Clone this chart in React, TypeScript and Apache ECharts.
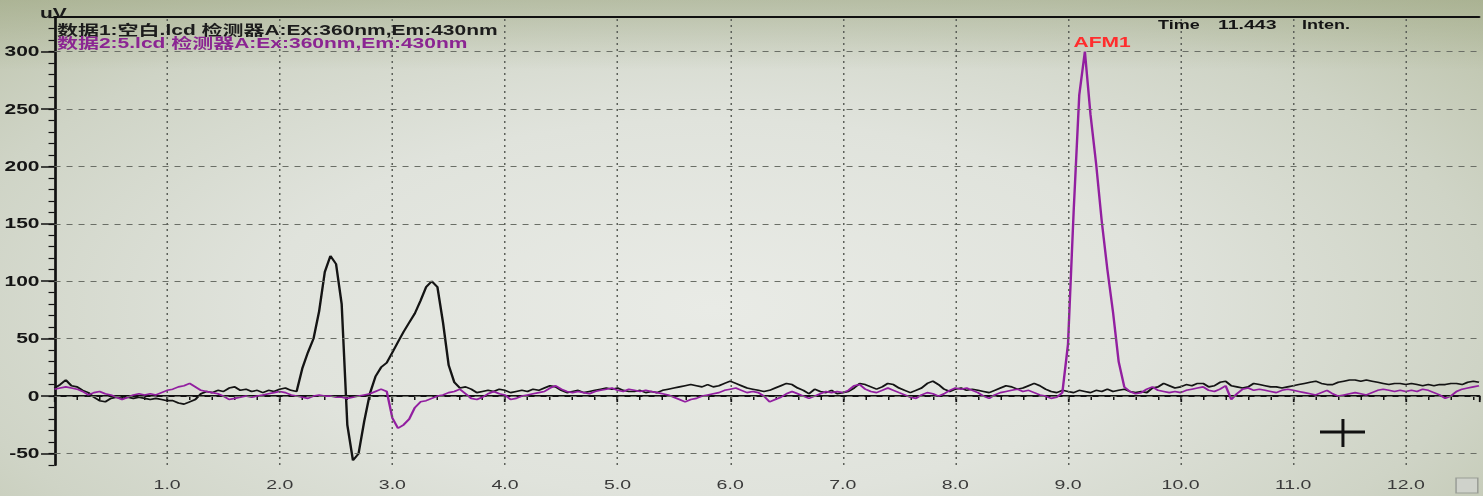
import React, { useEffect, useRef } from "react";
import * as echarts from "echarts";

// ---------- data ----------
const TIME_STEP = 0.05; // minutes between samples
const X_MIN = 0;
const X_MAX = 12.65;
const Y_MIN = -60;
const Y_MAX = 330;

const xMajorTicks = [1, 2, 3, 4, 5, 6, 7, 8, 9, 10, 11, 12];
const yMajorTicks = [-50, 0, 50, 100, 150, 200, 250, 300];

const legend1 = "数据1:空白.lcd 检测器A:Ex:360nm,Em:430nm";
const legend2 = "数据2:5.lcd 检测器A:Ex:360nm,Em:430nm";
const yUnit = "uV";
const peakLabel = "AFM1";
const cursorTimeLabel = "Time";
const cursorTimeValue = "11.443";
const cursorIntenLabel = "Inten.";

// 数据1 (black) — one value every 0.05 min from 0.00 to 12.65
const blackValues = [
  7, 10, 14, 9, 8, 5, 3, -1, -4, -5, -2, -1, -2, -1, -2, -1, -2, -3, -2, -3,
  -4, -4, -6, -7, -5, -3, 2, 4, 3, 5, 4, 7, 8, 5, 6, 4, 5, 3, 5, 4,
  6, 7, 5, 4, 24, 38, 50, 74, 108, 122, 115, 80, -25, -56, -50, -22, 2, 17, 25, 29,
  38, 47, 56, 64, 72, 83, 95, 100, 95, 64, 27, 12, 7, 8, 6, 3, 4, 5, 4, 6,
  5, 3, 4, 5, 4, 6, 5, 7, 9, 8, 5, 3, 4, 5, 3, 4, 5, 6, 7, 6,
  7, 5, 4, 4, 5, 3, 4, 3, 5, 6, 7, 8, 9, 10, 9, 8, 10, 8, 9, 11,
  13, 11, 9, 7, 6, 5, 4, 5, 7, 9, 11, 10, 7, 5, 2, 6, 4, 3, 5, 2,
  3, 4, 7, 11, 10, 8, 6, 8, 11, 10, 7, 5, 3, 5, 7, 11, 13, 10, 6, 4,
  6, 7, 5, 6, 5, 4, 3, 5, 7, 9, 8, 6, 7, 9, 11, 9, 6, 4, 3, 5,
  4, 3, 5, 4, 3, 5, 4, 6, 4, 5, 6, 4, 3, 4, 3, 7, 8, 11, 9, 7,
  8, 10, 9, 11, 11, 8, 9, 12, 13, 9, 8, 7, 8, 11, 10, 9, 8, 8, 7, 8,
  9, 10, 11, 12, 13, 11, 10, 10, 12, 13, 14, 14, 13, 14, 13, 12, 11, 10, 11, 11,
  10, 11, 10, 9, 10, 9, 10, 10, 11, 11, 10, 12, 13, 12,
];

// 数据2 (magenta) — one value every 0.05 min from 0.00 to 12.65
const magentaValues = [
  6, 7, 8, 7, 6, 4, 1, 3, 4, 2, 1, -1, -3, -1, 1, 2, 1, 2, 1, 3,
  5, 6, 8, 9, 11, 8, 5, 4, 3, 2, 0, -3, -2, -1, 0, -1, 0, 1, 2, 3,
  4, 3, 1, 0, -1, -2, 0, 1, 0, 0, -1, -1, -2, -1, 0, 1, 2, 4, 6, 4,
  -19, -28, -25, -20, -10, -5, -4, -2, 0, 1, 3, 4, 6, 2, -2, -3, -1, 2, 4, 2,
  1, -3, -2, 0, 1, 2, 3, 4, 7, 9, 6, 4, 3, 4, 3, 2, 4, 5, 6, 7,
  5, 4, 6, 5, 4, 5, 4, 3, 2, 1, -1, -3, -5, -3, -2, 0, 1, 2, 3, 5,
  6, 7, 5, 3, 4, 3, 0, -5, -3, -1, 2, 4, 2, 0, -2, 0, 2, 4, 3, 4,
  3, 5, 9, 10, 6, 4, 3, 5, 7, 5, 3, 1, -1, -2, 1, 3, 2, 0, 2, 5,
  7, 6, 7, 5, 3, 0, -2, 1, 3, 4, 5, 6, 4, 5, 3, 1, 0, -2, -1, 3,
  45, 160, 262, 300, 245, 202, 152, 110, 73, 30, 8, 4, 2, 3, 6, 8, 5, 4, 3, 4,
  3, 5, 6, 7, 8, 5, 4, 6, 9, -3, 2, 6, 7, 5, 6, 5, 4, 3, 5, 6,
  5, 4, 3, 2, 1, 3, 5, 2, 0, 1, 2, 3, 2, 1, 3, 5, 6, 5, 4, 5,
  4, 5, 4, 6, 5, 3, 1, -2, 0, 4, 6, 7, 8, 9,
];

// ---------- layout ----------
const W = 1483;
const H = 496;
const STRETCH = 1.5; // the photographed screen is stretched horizontally
const IW = W / STRETCH;
const FONT = '"Liberation Sans", Arial, "Noto Sans CJK SC", sans-serif';

const toPairs = (vals: number[]) =>
  vals.map((v, i) => [Number((i * TIME_STEP).toFixed(2)), v]);

function buildOption(): any {
  const axisBase = {
    type: "value",
    min: X_MIN,
    max: X_MAX,
    splitLine: { show: false },
  };
  const txt = (text: string, x: number, y: number, size: number, fill: string, align = "left") => ({
    type: "text",
    x,
    y,
    z: 10,
    style: { text, fontSize: size, fontWeight: "bold", fontFamily: FONT, fill, align, verticalAlign: "middle" },
  });
  return {
    animation: false,
    backgroundColor: "transparent",
    grid: { left: 53 / STRETCH, right: 0, top: 17, bottom: 31 },
    xAxis: [
      {
        ...axisBase,
        interval: 1,
        position: "bottom",
        axisLine: { show: true, lineStyle: { color: "#111", width: 2 } },
        axisTick: { show: true, length: 6, lineStyle: { color: "#111", width: 1.2 } },
        axisLabel: {
          margin: 13,
          fontSize: 13,
          color: "#3a3a3a",
          fontFamily: FONT,
          formatter: (v: number) => (xMajorTicks.includes(v) ? v.toFixed(1) : ""),
        },
      },
      {
        ...axisBase,
        interval: 0.2,
        position: "bottom",
        axisLine: { show: false },
        axisTick: { show: true, length: 4, lineStyle: { color: "#111", width: 1 } },
        axisLabel: { show: false },
      },
      {
        ...axisBase,
        position: "top",
        axisLine: { show: true, lineStyle: { color: "#111", width: 2 } },
        axisTick: { show: false },
        axisLabel: { show: false },
      },
    ],
    yAxis: [
      {
        type: "value",
        min: Y_MIN,
        max: Y_MAX,
        position: "left",
        splitLine: { show: false },
        axisLine: { show: true, lineStyle: { color: "#111", width: 1.8 } },
        axisTick: {
          show: true,
          length: 9,
          customValues: yMajorTicks,
          lineStyle: { color: "#111", width: 1.5 },
        },
        axisLabel: {
          customValues: yMajorTicks,
          margin: 10,
          fontSize: 14,
          fontWeight: "bold",
          color: "#151515",
          fontFamily: FONT,
        },
      },
      {
        type: "value",
        min: Y_MIN,
        max: Y_MAX,
        interval: 10,
        position: "left",
        splitLine: { show: false },
        axisLine: { show: false },
        axisTick: { show: true, length: 4, lineStyle: { color: "#111", width: 1.2 } },
        axisLabel: { show: false },
      },
    ],
    series: [
      {
        type: "line",
        name: "grid",
        data: [[0, 0]],
        symbol: "none",
        lineStyle: { opacity: 0 },
        silent: true,
        z: 1,
        markLine: {
          silent: true,
          symbol: ["none", "none"],
          label: { show: false },
          emphasis: { disabled: true },
          data: [
            ...yMajorTicks.map((v) => ({
              yAxis: v,
              lineStyle: { type: [4, 4], color: "#6a6e66", width: 1 },
            })),
            ...xMajorTicks.map((v) => ({
              xAxis: v,
              lineStyle: { type: [2, 4], color: "#5d615a", width: 1 },
            })),
          ],
        },
      },
      {
        type: "line",
        name: "数据1",
        data: toPairs(blackValues),
        symbol: "none",
        lineStyle: { color: "#141414", width: 1.6 },
        z: 3,
      },
      {
        type: "line",
        name: "数据2",
        data: toPairs(magentaValues),
        symbol: "none",
        lineStyle: { color: "#921f a0".replace(" ", ""), width: 1.6 },
        z: 4,
      },
    ],
    graphic: [
      txt(yUnit, 26.7, 13, 14, "#1a1a1a"),
      txt(legend1, 38, 30, 14, "#1c1c1c"),
      txt(legend2, 38, 43, 14, "#8b2592"),
      txt(cursorTimeLabel, 772, 25, 12, "#141414"),
      txt(cursorTimeValue, 812, 25, 13, "#141414"),
      txt(cursorIntenLabel, 868, 25, 12, "#141414"),
      txt(peakLabel, 734.7, 42, 14, "#ff2d2d", "center"),
      {
        type: "line",
        shape: { x1: 880, y1: 432, x2: 910, y2: 432 },
        style: { stroke: "#111", lineWidth: 3 },
      },
      {
        type: "line",
        shape: { x1: 895.3, y1: 419, x2: 895.3, y2: 447 },
        style: { stroke: "#111", lineWidth: 2 },
      },
      {
        type: "rect",
        shape: { x: 970.7, y: 478, width: 14.5, height: 15 },
        style: { fill: "#cfd2cb", stroke: "#9a9d96", lineWidth: 1 },
      },
    ],
  };
}

export default function App() {
  const ref = useRef<HTMLDivElement>(null);
  useEffect(() => {
    if (!ref.current) return;
    const chart = echarts.init(ref.current, undefined, { renderer: "svg" });
    chart.setOption(buildOption());
    return () => chart.dispose();
  }, []);
  return (
    <div
      style={{
        position: "fixed",
        left: 0,
        top: 0,
        width: W,
        height: H,
        overflow: "hidden",
        background:
          "linear-gradient(to bottom, rgba(150,160,120,0.45) 0px, rgba(150,160,120,0) 70px), radial-gradient(ellipse 75% 95% at 48% 62%, #e9ebe6 0%, #e0e3dc 40%, #cfd4c6 70%, #b7bea3 100%)",
      }}
    >
      <div
        ref={ref}
        style={{
          width: IW,
          height: H,
          transform: `scaleX(${STRETCH})`,
          transformOrigin: "0 0",
        }}
      />
    </div>
  );
}
